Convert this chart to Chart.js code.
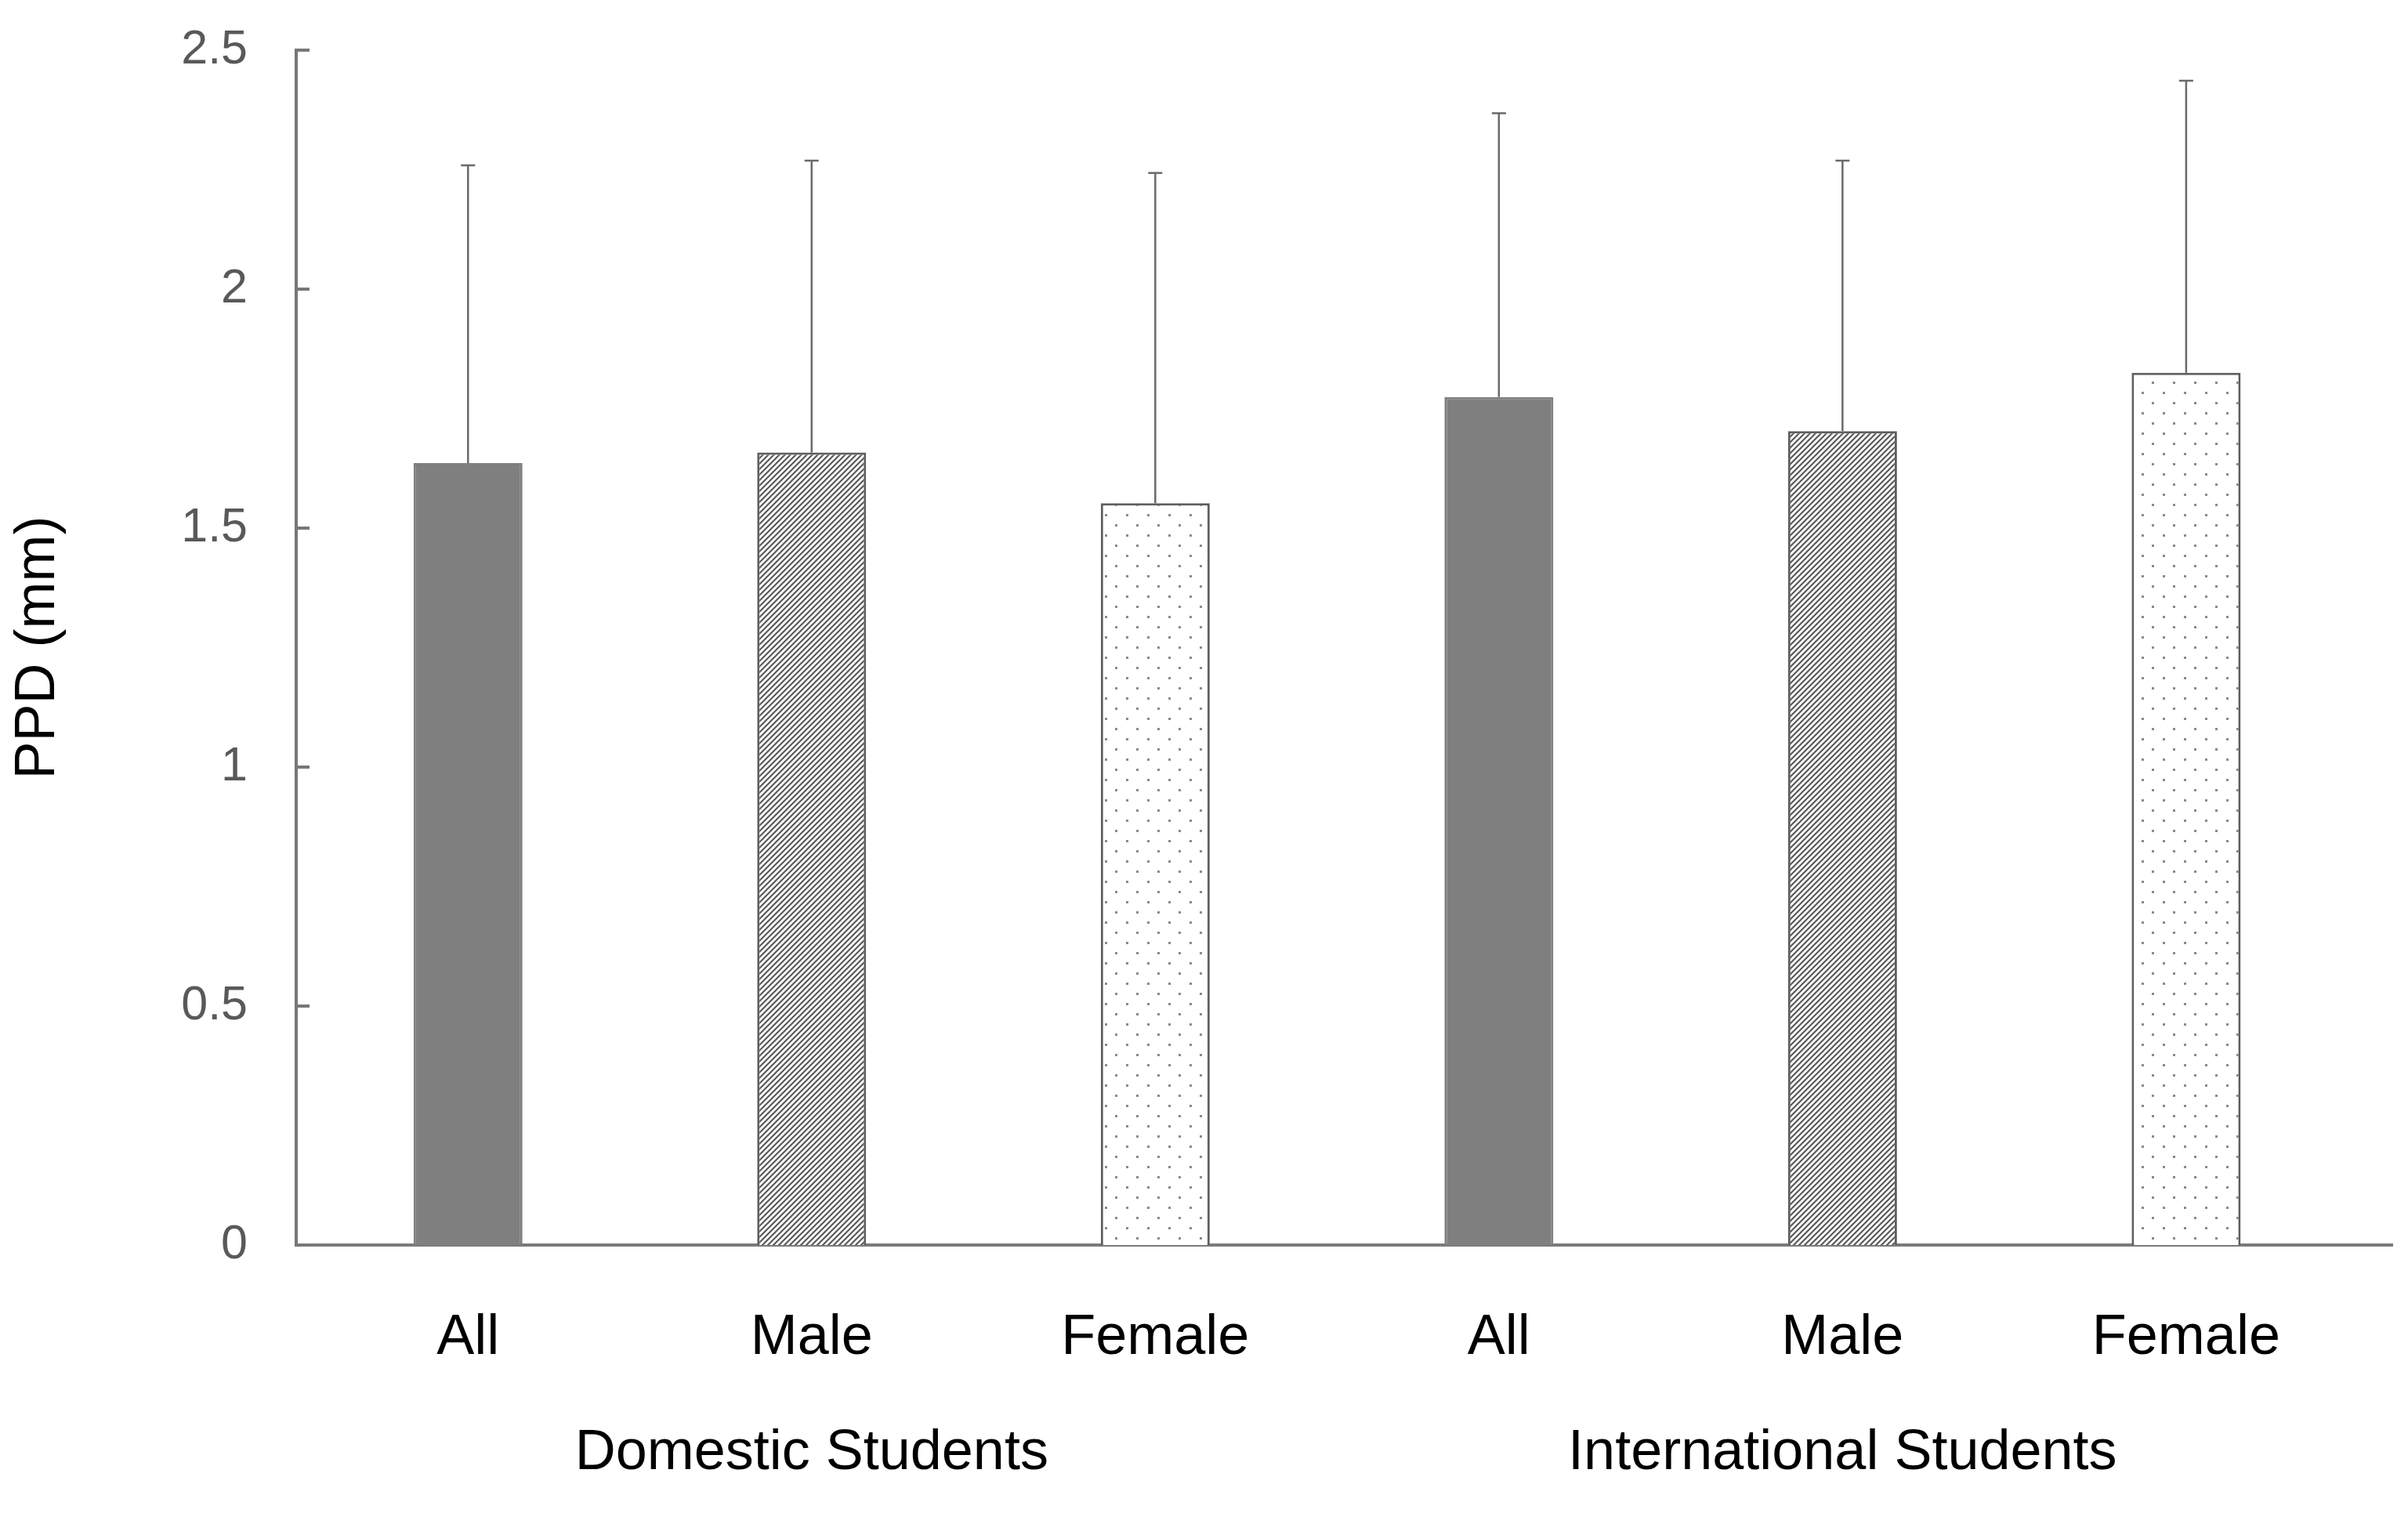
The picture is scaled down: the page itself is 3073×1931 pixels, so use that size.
<!DOCTYPE html>
<html>
<head>
<meta charset="utf-8">
<script src="https://cdn.jsdelivr.net/npm/chart.js@4/dist/chart.umd.min.js"></script>
<style>
  html, body { margin: 0; padding: 0; background: #ffffff; }
  #c { display: block; }
</style>
</head>
<body>
<canvas id="c" width="3073" height="1931" style="width:3073px;height:1931px"></canvas>
<script>
// ---- data ----
const categories = ["All", "Male", "Female", "All", "Male", "Female"];
const groups = ["Domestic Students", "International Students"];
const groupCenters = [1, 4];
const means = [1.636, 1.658, 1.552, 1.774, 1.703, 1.825];
const sds = [0.623, 0.611, 0.691, 0.594, 0.566, 0.611];
const yTicks = [0, 0.5, 1, 1.5, 2, 2.5];

// ---- patterns ----
function makeTile(w, h, draw) {
  const c = document.createElement('canvas');
  c.width = w; c.height = h;
  const g = c.getContext('2d');
  draw(g, w, h);
  return c;
}
const pctx = document.getElementById('c').getContext('2d');
const hatchTile = makeTile(7, 7, (g, w, h) => {
  g.fillStyle = '#ffffff'; g.fillRect(0, 0, w, h);
  g.strokeStyle = '#5a5a5a'; g.lineWidth = 2.2;
  g.beginPath();
  g.moveTo(-1, h + 1); g.lineTo(w + 1, -1);
  g.moveTo(-1 - w, h + 1); g.lineTo(1, -1);
  g.moveTo(w - 1, h + 1); g.lineTo(2 * w + 1, -1);
  g.stroke();
});
const dotTile = makeTile(27, 26, (g, w, h) => {
  g.fillStyle = '#ffffff'; g.fillRect(0, 0, w, h);
  g.fillStyle = '#8a8a8a';
  g.fillRect(6, 6, 3, 3);
  g.fillRect(19, 19, 3, 3);
});
const hatch = pctx.createPattern(hatchTile, 'repeat');
const dots = pctx.createPattern(dotTile, 'repeat');
const fills = ['#7f7f7f', hatch, dots, '#7f7f7f', hatch, dots];
const borders = ['#7f7f7f', '#5e5e5e', '#5e5e5e', '#7f7f7f', '#5e5e5e', '#5e5e5e'];

// ---- plugins ----
const errorBars = {
  id: 'errorBars',
  afterDatasetsDraw(chart) {
    const meta = chart.getDatasetMeta(0);
    const ys = chart.scales.y;
    const ctx = chart.ctx;
    ctx.save();
    ctx.strokeStyle = '#6a6a6a';
    ctx.lineWidth = 2.5;
    meta.data.forEach((bar, i) => {
      const x = bar.x;
      const yTop = ys.getPixelForValue(means[i] + sds[i]);
      ctx.beginPath();
      ctx.moveTo(x, bar.y);
      ctx.lineTo(x, yTop);
      ctx.moveTo(x - 9, yTop);
      ctx.lineTo(x + 9, yTop);
      ctx.stroke();
    });
    ctx.restore();
  }
};
const innerTicks = {
  id: 'innerTicks',
  afterDraw(chart) {
    const ys = chart.scales.y;
    const ctx = chart.ctx;
    const left = chart.chartArea.left;
    ctx.save();
    ctx.strokeStyle = '#777777';
    ctx.lineWidth = 4;
    ys.ticks.forEach(t => {
      const y = ys.getPixelForValue(t.value);
      ctx.beginPath();
      ctx.moveTo(left, y);
      ctx.lineTo(left + 17, y);
      ctx.stroke();
    });
    ctx.restore();
  }
};

const font = 'Liberation Sans, Arial, Helvetica, sans-serif';

new Chart(document.getElementById('c'), {
  type: 'bar',
  data: {
    datasets: [{
      data: means.map((v, i) => ({ x: i, y: v })),
      backgroundColor: fills,
      borderColor: borders,
      borderWidth: 3,
      barPercentage: 0.317,
      categoryPercentage: 1.0
    }]
  },
  options: {
    responsive: false,
    animation: false,
    devicePixelRatio: 1,
    layout: { padding: { left: 0, top: 64, right: 20, bottom: 0 } },
    plugins: { legend: { display: false }, tooltip: { enabled: false } },
    scales: {
      x: {
        type: 'linear',
        position: 'bottom',
        offset: false,
        weight: 0,
        min: -0.5,
        max: 5.6,
        afterBuildTicks: s => { s.ticks = categories.map((_, i) => ({ value: i })); },
        afterFit: s => { s.height = 190; s.paddingLeft = 0; s.paddingRight = 0; },
        grid: { display: false, drawTicks: false, offset: false },
        border: { display: true, color: '#7a7a7a', width: 4 },
        ticks: {
          autoSkip: false, maxRotation: 0, padding: 76,
          color: '#000000', font: { family: font, size: 72 },
          callback: v => categories[v]
        }
      },
      x2: {
        type: 'linear',
        position: 'bottom',
        offset: false,
        weight: 1,
        min: -0.5,
        max: 5.6,
        afterBuildTicks: s => { s.ticks = groupCenters.map(v => ({ value: v })); },
        afterFit: s => { s.height = 152; s.paddingLeft = 0; s.paddingRight = 0; },
        grid: { display: false, drawTicks: false, offset: false },
        border: { display: false },
        ticks: {
          autoSkip: false, maxRotation: 0, padding: 33,
          color: '#000000', font: { family: font, size: 72 },
          callback: v => groups[groupCenters.indexOf(v)]
        }
      },
      y: {
        min: 0,
        max: 2.5,
        afterBuildTicks: s => { s.ticks = yTicks.map(v => ({ value: v })); },
        afterFit: s => { s.width = 378; s.paddingTop = 0; s.paddingBottom = 0; },
        grid: { display: false, drawTicks: false },
        border: { display: true, color: '#777777', width: 4 },
        ticks: {
          padding: 62,
          color: '#595959', font: { family: font, size: 61 },
          callback: v => String(v)
        },
        title: {
          display: true, text: 'PPD (mm)', color: '#000000',
          font: { family: font, size: 72 }, padding: { top: 6, bottom: 0 }
        }
      }
    }
  },
  plugins: [errorBars, innerTicks]
});
</script>
</body>
</html>
